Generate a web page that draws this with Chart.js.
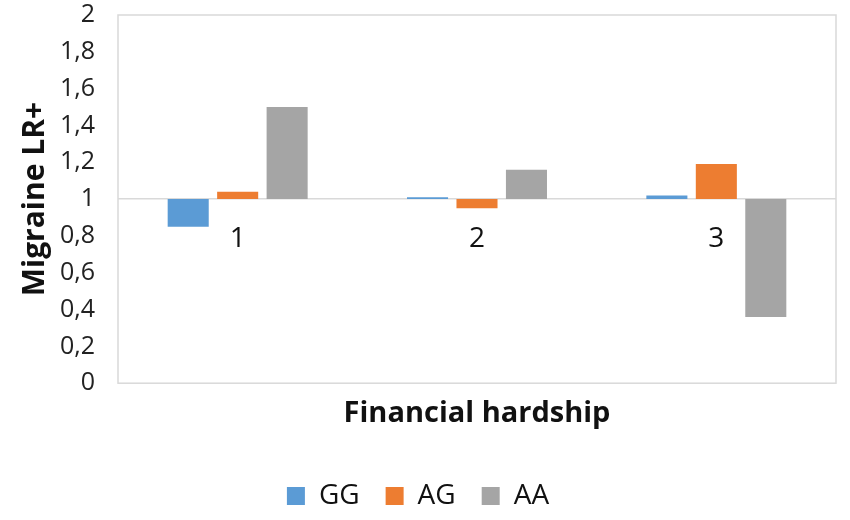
<!DOCTYPE html>
<html>
<head>
<meta charset="utf-8">
<script src="https://cdn.jsdelivr.net/npm/chart.js@4"></script>
<style>
  html, body { margin: 0; padding: 0; background: #fff; }
  #wrap { width: 850px; height: 520px; }
</style>
</head>
<body>
<div id="wrap"><canvas id="grafico"></canvas></div>
<script>
const categorias = ['1', '2', '3'];
const baseLinha = 1;
const valoresGG = [0.85, 1.01, 1.02];
const valoresAG = [1.04, 0.95, 1.19];
const valoresAA = [1.50, 1.16, 0.36];

const fonte = "'Open Sans', 'Liberation Sans', sans-serif";

// desenha a moldura do gráfico e os rótulos das categorias abaixo da linha do 1
const molduraPlugin = {
    id: 'moldura',
    afterDraw(chart) {
        const { ctx, chartArea, scales } = chart;
        ctx.save();
        ctx.strokeStyle = '#d9d9d9';
        ctx.lineWidth = 1.5;
        ctx.strokeRect(chartArea.left, chartArea.top, chartArea.right - chartArea.left, chartArea.bottom - chartArea.top);
        ctx.fillStyle = '#111';
        ctx.font = '28px ' + fonte;
        ctx.textAlign = 'center';
        ctx.textBaseline = 'middle';
        const y = scales.y.getPixelForValue(baseLinha) + 40;
        categorias.forEach((c, i) => ctx.fillText(c, scales.x.getPixelForValue(i), y));
        ctx.restore();
    }
};

const intervalo = arr => arr.map(v => [baseLinha, v]);

new Chart(document.getElementById('grafico'), {
    type: 'bar',
    data: {
        labels: categorias,
        datasets: [
            { label: 'GG', data: intervalo(valoresGG), backgroundColor: '#5b9bd5' },
            { label: 'AG', data: intervalo(valoresAG), backgroundColor: '#ed7d31' },
            { label: 'AA', data: intervalo(valoresAA), backgroundColor: '#a5a5a5' }
        ]
    },
    options: {
        responsive: true,
        maintainAspectRatio: false,
        animation: false,
        categoryPercentage: 0.62,
        barPercentage: 0.83,
        layout: { padding: { top: 15, right: 14, left: 0, bottom: 0 } },
        plugins: {
            tooltip: { enabled: false },
            legend: {
                position: 'bottom',
                labels: {
                    boxWidth: 18, boxHeight: 18, padding: 26,
                    color: '#111',
                    font: { family: fonte, size: 28 }
                }
            }
        },
        scales: {
            x: {
                grid: { display: false },
                border: { display: false },
                ticks: { display: false },
                title: {
                    display: true, text: 'Financial hardship', color: '#111',
                    font: { family: fonte, size: 29, weight: 'bold' },
                    padding: { top: 5, bottom: 25 }
                }
            },
            y: {
                min: 0, max: 2,
                border: { display: false },
                afterFit: s => { s.width = 118; s.paddingTop = 0; s.paddingBottom = 0; },
                grid: {
                    drawTicks: false,
                    lineWidth: 1.5,
                    color: c => c.tick && c.tick.value === baseLinha ? '#d9d9d9' : 'transparent'
                },
                ticks: {
                    stepSize: 0.2,
                    padding: 23,
                    color: '#222',
                    font: { family: fonte, size: 25 },
                    callback: v => Number.isInteger(Math.round(v * 10) / 10) ? String(Math.round(v)) : v.toFixed(1).replace('.', ',')
                },
                title: {
                    display: true, text: 'Migraine LR+', color: '#111',
                    font: { family: fonte, size: 30, weight: 'bold' },
                    padding: { top: 17, bottom: 0 }
                }
            }
        }
    },
    plugins: [molduraPlugin]
});
</script>
</body>
</html>
